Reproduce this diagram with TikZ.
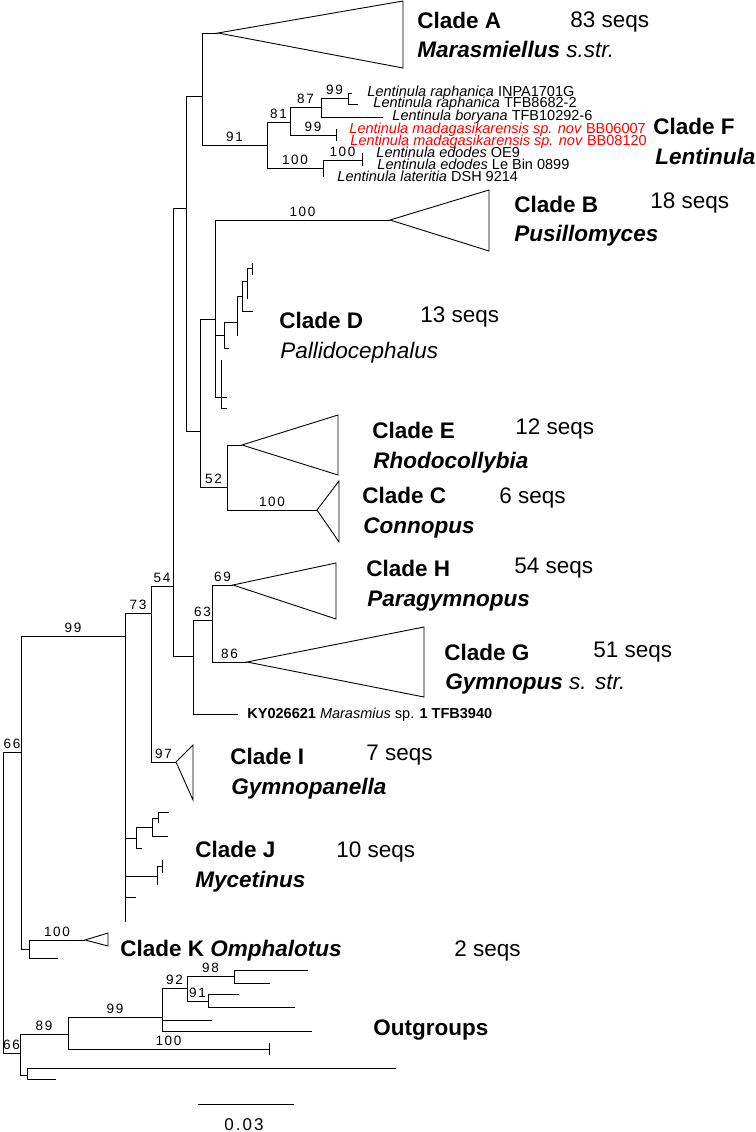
\documentclass[tikz,border=0pt]{standalone}
\usepackage{fontspec}
\setmainfont{Liberation Sans}
\newfontfamily\supfont[LetterSpace=12]{Liberation Sans}
\usetikzlibrary{positioning}

\tikzset{
  sup/.style={pos=0.75, above=2.5pt, inner sep=0pt,
    font=\supfont\fontsize{13.5}{13.5}\selectfont},
  tip/.style={anchor=base west, inner sep=0pt,
    font=\fontsize{14.5}{14.5}\selectfont},
  cname/.style={anchor=base west, inner sep=0pt,
    font=\bfseries\fontsize{22.5}{22.5}\selectfont},
  cseqs/.style={anchor=base west, inner sep=0pt,
    font=\fontsize{22.5}{22.5}\selectfont},
  cgenus/.style={anchor=base west, inner sep=0pt,
    font=\bfseries\itshape\fontsize{22.5}{22.5}\selectfont},
}

\begin{document}
\begin{tikzpicture}[x=1pt, y=-1pt, line width=0.9pt]
  \useasboundingbox (0,0) rectangle (755,1132);

  % backbone
  \coordinate (root) at (3,900);
  \coordinate (ing) at (21,752);
  \coordinate (outg) at (20,1053);
  \coordinate (n125) at (125,636);
  \coordinate (nK) at (29,949);
  \coordinate (kA) at (85,940);
  \coordinate (kL) at (58,958);
  \coordinate (n151) at (151,613);
  \coordinate (n173) at (173,586);
  \coordinate (cI) at (176,762);
  \coordinate (n186) at (186,208);
  \coordinate (n193) at (193,656);
  \coordinate (n212) at (212,620);
  \coordinate (ky) at (238,714);
  \coordinate (cH) at (233,585);
  \coordinate (cG) at (247,662);
  \coordinate (n202) at (202,96);
  \coordinate (n200) at (200,431);
  \coordinate (cA) at (218,33);
  \coordinate (n227) at (227,487);
  \coordinate (cE) at (242,445);
  \coordinate (cC) at (317,510);
  \coordinate (n215) at (215,319);
  \coordinate (cB) at (390,220);

  % Lentinula
  \coordinate (n267) at (267,145);
  \coordinate (n290) at (290,122);
  \coordinate (n323) at (323,168);
  \coordinate (n321) at (321,107);
  \coordinate (n336) at (336,135);
  \coordinate (n348) at (348,98);
  \coordinate (n362) at (362,160);
  \coordinate (l1) at (352,93);
  \coordinate (l2) at (358,104);
  \coordinate (l3) at (383,117);
  \coordinate (l4) at (336,129);
  \coordinate (l5) at (336,141);
  \coordinate (l6) at (362,153);
  \coordinate (l7) at (362,166);
  \coordinate (l8) at (323,177);

  % clade D
  \coordinate (d1) at (224,335);
  \coordinate (d1b) at (229,348);
  \coordinate (d3) at (237,322);
  \coordinate (d3b) at (237,336);
  \coordinate (d4) at (242,296);
  \coordinate (d4b) at (253,311);
  \coordinate (d5) at (247,281);
  \coordinate (d5b) at (247,299);
  \coordinate (d6) at (252,268);
  \coordinate (d6a) at (252,263);
  \coordinate (d6b) at (252,275);
  \coordinate (d2) at (221,397);
  \coordinate (d2a) at (221,360);
  \coordinate (d2b) at (227,397);
  \coordinate (d2c) at (227,408);

  % clade J
  \coordinate (j1) at (136,838);
  \coordinate (j1b) at (142,848);
  \coordinate (j3) at (152,827);
  \coordinate (j3b) at (168,836);
  \coordinate (j4) at (158,818);
  \coordinate (j4a) at (169,812);
  \coordinate (j4b) at (158,823);
  \coordinate (j2) at (157,876);
  \coordinate (j2b) at (157,885);
  \coordinate (j5) at (162,866);
  \coordinate (j5a) at (162,860);
  \coordinate (j5b) at (162,873);
  \coordinate (jL1) at (136,897);
  \coordinate (jL2) at (125,922);

  % outgroups
  \coordinate (o1) at (68,1034);
  \coordinate (o2) at (27,1075);
  \coordinate (o2a) at (396,1068);
  \coordinate (o2b) at (56,1079);
  \coordinate (o3) at (162,1017);
  \coordinate (o3b) at (212,1020);
  \coordinate (o3c) at (312,1031);
  \coordinate (o4) at (269,1049);
  \coordinate (o4a) at (269,1043);
  \coordinate (o4b) at (269,1055);
  \coordinate (o5) at (187,988);
  \coordinate (o6) at (234,976);
  \coordinate (o6a) at (308,970);
  \coordinate (o6b) at (270,983);
  \coordinate (o7) at (208,1001);
  \coordinate (o7a) at (239,994);
  \coordinate (o7b) at (295,1007);

  % branches with support
  \foreach \p/\c/\s in {root/ing/66, root/outg/66, ing/n125/99, nK/kA/100,
      n125/n151/73, n151/n173/54, n151/cI/97, n193/n212/63, n212/cH/69,
      n212/cG/86, n202/n267/91, n267/n290/81, n267/n323/100, n290/n321/87,
      n290/n336/99, n321/n348/99, n323/n362/100, n200/n227/52, n227/cC/100,
      n215/cB/100, outg/o1/89, o1/o3/99, o1/o4/100, o3/o5/92, o5/o6/98,
      o5/o7/91}
    \draw (\p) |- node[sup]{\s} (\c);

  % branches without support
  \foreach \p/\c in {ing/nK, nK/kL, n125/j1, n125/j2, n125/jL1, n125/jL2,
      j1/j3, j1/j1b, j3/j4, j3/j3b, j4/j4a, j4/j4b, j2/j5, j2/j2b, j5/j5a,
      j5/j5b, n173/n186, n173/n193, n193/ky, n186/n202, n186/n200, n202/cA,
      n321/l3, n348/l1, n348/l2, n336/l4, n336/l5, n323/l8, n362/l6,
      n362/l7, n200/n215, n227/cE, n215/d1, n215/d2, d1/d3, d1/d1b, d3/d4,
      d3/d3b, d4/d5, d4/d4b, d5/d6, d5/d5b, d6/d6a, d6/d6b, d2/d2a, d2/d2b,
      d2/d2c, outg/o2, o2/o2a, o2/o2b, o4/o4a, o4/o4b, o3/o3b, o3/o3c,
      o6/o6a, o6/o6b, o7/o7a, o7/o7b}
    \draw (\p) |- (\c);

  % collapsed clades
  \draw (cA) -- (403,1) -- (403,68) -- cycle;
  \draw (cB) -- (489,190) -- (489,251) -- cycle;
  \draw (cE) -- (338,415) -- (338,475) -- cycle;
  \draw (cC) -- (339,481) -- (339,542) -- cycle;
  \draw (cH) -- (336,563) -- (336,619) -- cycle;
  \draw (cG) -- (424,627) -- (424,697) -- cycle;
  \draw (cI) -- (193,745) -- (193,800) -- cycle;
  \draw (kA) -- (108,933) -- (108,946) -- cycle;

  % tip labels
  \node[tip] (t1) at (367,96) {\textit{Lentinula raphanica} INPA1701G};
  \node[tip] (t2) at (373,107) {\textit{Lentinula raphanica} TFB8682-2};
  \node[tip] (t3) at (392,120) {\textit{Lentinula boryana} TFB10292-6};
  \node[tip, text=red] (t4) at (349,133)
    {\textit{Lentinula madagasikarensis sp. nov} BB06007};
  \node[tip, text=red] (t5) at (350,145)
    {\textit{Lentinula madagasikarensis sp. nov} BB08120};
  \node[tip] (t6) at (376,157) {\textit{Lentinula edodes} OE9};
  \node[tip] (t7) at (377,169) {\textit{Lentinula edodes} Le Bin 0899};
  \node[tip] (t8) at (337,181) {\textit{Lentinula lateritia} DSH 9214};
  \node[tip] (tky) at (247,718)
    {\textbf{KY026621} \textit{Marasmius} sp. \textbf{1 TFB3940}};

  % clade labels
  \node[cname] (nameA) at (417,29) {Clade A};
  \node[cseqs] (seqA) at (570,28) {83 seqs};
  \node[cgenus] (genA) at (417,58) {Marasmiellus \textmd{s.str.}};
  \node[cname] (nameF) at (653,134) {Clade F};
  \node[cgenus] (genF) at (655,164) {Lentinula};
  \node[cname] (nameB) at (514,212) {Clade B};
  \node[cseqs] (seqB) at (650,208) {18 seqs};
  \node[cgenus] (genB) at (514,241) {Pusillomyces};
  \node[cname] (nameD) at (279,328) {Clade D};
  \node[cseqs] (seqD) at (420,322) {13 seqs};
  \node[cseqs, font=\itshape\fontsize{22.5}{22.5}\selectfont] (genD)
    at (280,358) {Pallidocephalus};
  \node[cname] (nameE) at (372,438) {Clade E};
  \node[cseqs] (seqE) at (515,434) {12 seqs};
  \node[cgenus] (genE) at (373,468) {Rhodocollybia};
  \node[cname] (nameC) at (362,503) {Clade C};
  \node[cseqs] (seqC) at (499,503) {6 seqs};
  \node[cgenus] (genC) at (363,533) {Connopus};
  \node[cname] (nameH) at (366,576) {Clade H};
  \node[cseqs] (seqH) at (514,573) {54 seqs};
  \node[cgenus] (genH) at (367,606) {Paragymnopus};
  \node[cname] (nameG) at (444,660) {Clade G};
  \node[cseqs] (seqG) at (593,657) {51 seqs};
  \node[cgenus] (genG) at (445,689) {Gymnopus \textmd{s. str.}};
  \node[cname] (nameI) at (230,764) {Clade I};
  \node[cseqs] (seqI) at (366,760) {7 seqs};
  \node[cgenus] (genI) at (231,794) {Gymnopanella};
  \node[cname] (nameJ) at (195,857) {Clade J};
  \node[cseqs] (seqJ) at (336,857) {10 seqs};
  \node[cgenus] (genJ) at (195,887) {Mycetinus};
  \node[cname] (nameK) at (120,956) {Clade K \textit{Omphalotus}};
  \node[cseqs] (seqK) at (454,956) {2 seqs};
  \node[cname] (nameOut) at (373,1035) {Outgroups};

  % scale bar
  \coordinate (sbL) at (198,1104);
  \coordinate (sbR) at (294,1104);
  \draw (sbL) -- (sbR);
  \node[anchor=base, inner sep=0pt, font=\supfont\fontsize{17}{17}\selectfont]
    (sbT) at (244,1130) {0.03};
\end{tikzpicture}
\end{document}
